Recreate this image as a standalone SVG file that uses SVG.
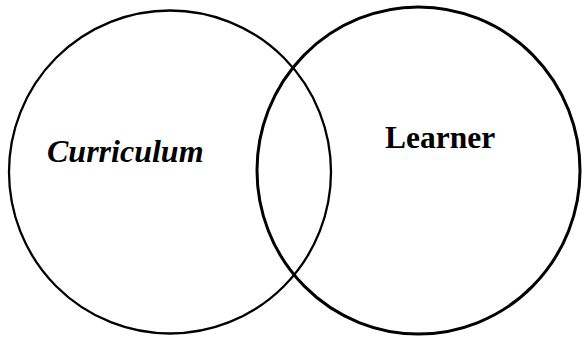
<svg xmlns="http://www.w3.org/2000/svg" width="582" height="339" viewBox="0 0 582 339">
<style>
.c{fill:none;stroke:#000;}
.t{font-family:'Liberation Serif','Times New Roman',Times,serif;font-weight:bold;fill:#000;}
</style>
<rect width="582" height="339" fill="#fff"/>
<g id="curriculum">
<ellipse class="c" cx="170" cy="172" rx="161" ry="161.5" stroke-width="2.3"/>
<text class="t" x="47" y="162" font-size="32" font-style="italic" font-family="Liberation Serif, serif">Curriculum</text>
</g>
<g id="learner">
<ellipse class="c" cx="418.5" cy="170.5" rx="161.5" ry="163.5" stroke-width="3"/>
<text class="t" x="385" y="148" font-size="31.5" font-family="Liberation Serif, serif">Learner</text>
</g>
<g id="connectors"></g>
</svg>
